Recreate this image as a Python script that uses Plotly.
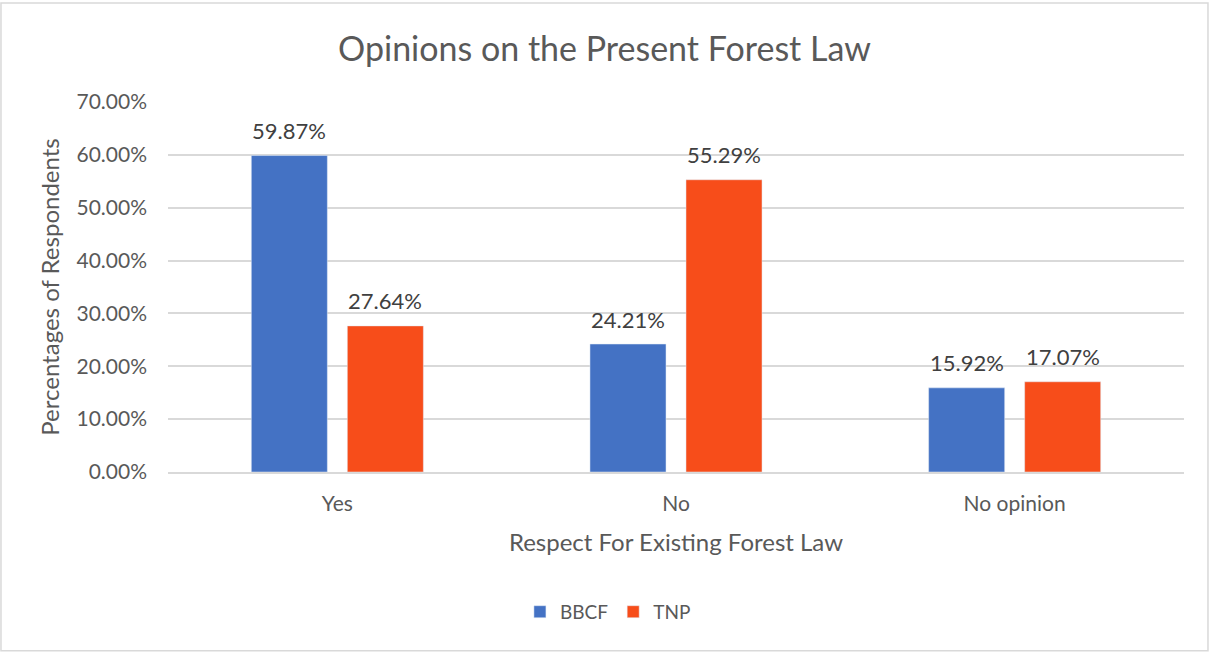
import plotly.graph_objects as go

categories = ["Yes", "No", "No opinion"]
bbcf = [59.87, 24.21, 15.92]
tnp = [27.64, 55.29, 17.07]
y_ticks = [0, 10, 20, 30, 40, 50, 60, 70]

font_family = "Lato, 'Open Sans', sans-serif"
text_grey = "#595959"

fig = go.Figure()

fig.add_trace(go.Bar(x=categories, y=bbcf, name="BBCF", marker=dict(color="#4472C4")))
fig.add_trace(go.Bar(x=categories, y=tnp, name="TNP", marker=dict(color="#F74D1A")))

# data labels sit a bit higher than plotly's outside text
for vals, shift in [(bbcf, -48), (tnp, 48)]:
    for cat, v in zip(categories, vals):
        fig.add_annotation(x=cat, y=v, xref="x", yref="y", text=f"{v:.2f}%",
                           showarrow=False, xshift=shift, yshift=25, yanchor="middle",
                           font=dict(size=22, color="#404040"))

# light frame around the whole chart
fig.add_shape(type="rect", xref="paper", yref="paper",
              x0=-0.1644, x1=1.0236, y0=-0.483, y1=1.2676,
              line=dict(color="#D9D9D9", width=1.5))

fig.update_layout(
    width=1209, height=652,
    paper_bgcolor="white", plot_bgcolor="white",
    font=dict(family=font_family, color=text_grey, size=21),
    title=dict(text="Opinions on the Present Forest Law", x=0.5, xanchor="center",
               y=0.925, yanchor="middle", font=dict(size=34, color=text_grey)),
    barmode="group", bargap=0.433, bargroupgap=0.208,
    margin=dict(l=168, r=25, t=102, b=180),
    xaxis=dict(
        title=dict(text="Respect For Existing Forest Law", font=dict(size=24), standoff=20),
        showline=True, linecolor="#D9D9D9", linewidth=1.5,
        tickfont=dict(size=21), ticks="", ticklabelstandoff=12,
    ),
    yaxis=dict(
        title=dict(text="Percentages of Respondents", font=dict(size=24), standoff=10),
        range=[0, 70], tickvals=y_ticks,
        ticktext=[f"{v:.2f}%" for v in y_ticks],
        gridcolor="#D9D9D9", gridwidth=1.5, zeroline=False,
        tickfont=dict(size=21), ticklabelstandoff=20,
    ),
    legend=dict(orientation="h", x=0.433, xanchor="center",
                y=-0.378, yanchor="middle",
                font=dict(size=19), itemwidth=30, traceorder="normal"),
)

fig.write_html("out.html", config={"displayModeBar": False},
               post_script="document.body.style.margin='0';")
